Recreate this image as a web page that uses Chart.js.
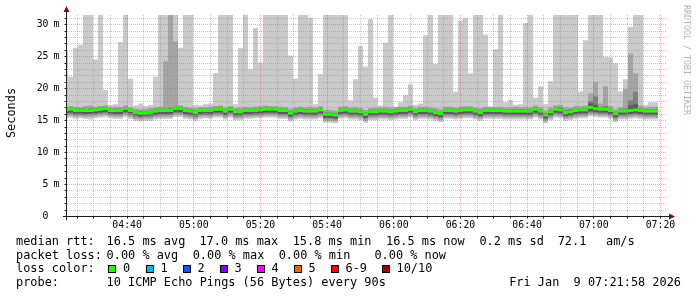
<!DOCTYPE html>
<html><head><meta charset="utf-8">
<script src="https://cdn.jsdelivr.net/npm/chart.js@4.4.1/dist/chart.umd.min.js"></script>
<style>html,body{margin:0;padding:0;background:#fff;overflow:hidden}canvas{display:block}</style>
</head><body>
<canvas id="c" width="697" height="297"></canvas>
<script>
// ---- data (values in ms; one value per 90 s step, first entry is the partially visible step) ----
const M = 31.45; // values at/above the top of the graph
const medianRtt = [16.6,
 16.7,16.5,16.5,16.5,16.5,16.6,16.7,16.8,16.5,16.5,
 16.5,16.8,16.5,16.2,16.1,16.1,16.2,16.4,16.5,16.5,
 16.5,16.8,16.8,16.5,16.4,16.2,16.5,16.5,16.5,16.7,
 16.7,16.4,16.7,16.3,16.3,16.5,16.5,16.5,16.6,16.7,
 16.7,16.7,16.5,16.5,16.1,16.4,16.5,16.4,16.4,16.4,
 16.6,15.9,15.9,15.8,16.5,16.6,16.4,16.4,16.3,15.9,
 16.3,16.3,16.4,16.4,16.3,16.4,16.5,16.5,16.7,16.3,
 16.5,16.5,16.4,16.2,16.0,16.5,16.5,16.4,16.5,16.6,
 16.6,16.4,16.2,16.5,16.5,16.5,16.5,16.4,16.4,16.4,
 16.4,16.4,16.4,16.7,16.4,15.8,16.3,16.7,16.6,16.2,
 16.3,16.5,16.6,16.6,17.0,16.8,16.7,16.7,16.5,16.0,
 16.4,16.4,16.5,16.6,16.5,16.4,16.4,16.4];
const ping10 = [25.9,
 21.8,26.3,26.8,M,M,24.5,M,19.7,17.4,17.5,
 27.2,M,21.5,17.3,17.6,17.2,17.4,21.8,M,M,
 M,M,26.3,M,M,17.4,17.3,17.5,17.6,22.4,
 M,M,M,17.5,26.3,M,23.0,29.4,24.0,M,
 M,M,M,M,25.1,21.5,M,M,31.0,17.5,
 22.2,M,M,M,M,M,18.1,21.4,26.6,23.4,
 30.8,18.5,17.3,27.1,M,17.1,17.8,18.9,20.6,17.4,
 17.6,28.3,M,23.8,M,M,M,19.4,30.6,31.0,
 22.3,M,M,28.4,17.1,26.1,M,17.8,18.2,17.4,
 17.5,30.2,M,18.5,20.3,17.5,21.1,M,M,M,
 M,M,19.5,27.5,M,M,M,24.9,24.8,23.9,
 19.5,21.4,29.6,M,M,17.4,17.8,17.8];
const ping9 = [17.1,
 17.2,17.1,17.0,17.2,17.3,17.1,17.2,17.3,17.0,17.1,
 17.1,17.3,17.0,16.8,16.7,16.8,16.9,17.0,17.1,24.2,
 M,27.3,17.3,17.1,17.0,16.9,17.0,17.0,17.1,17.2,
 17.3,17.0,17.2,16.9,17.0,17.1,17.0,17.1,17.2,17.3,
 17.2,17.2,17.1,17.0,16.8,17.0,17.1,17.0,17.1,17.0,
 17.2,16.6,16.6,16.5,17.1,17.2,17.0,17.1,16.9,16.6,
 16.9,17.0,17.0,17.1,17.0,17.0,17.1,17.1,17.3,16.9,
 17.1,17.1,17.0,16.9,16.7,17.1,17.1,17.0,17.1,17.2,
 17.2,17.0,16.9,17.1,17.1,17.0,17.1,17.0,17.0,17.1,
 17.0,17.1,17.0,17.3,17.0,16.5,17.0,17.3,17.4,17.0,
 17.0,17.2,17.2,17.3,19.2,21.0,17.6,20.3,17.2,16.7,
 17.0,19.9,25.4,22.3,17.3,17.0,17.1,17.1];
const ping8 = [16.9,
 17.0,16.8,16.8,16.8,16.9,16.9,17.0,17.1,16.8,16.8,
 16.8,17.1,16.8,16.5,16.4,16.4,16.5,16.7,16.8,16.8,
 16.9,17.1,17.1,16.8,16.7,16.5,16.8,16.8,16.8,17.0,
 17.0,16.7,17.0,16.6,16.6,16.8,16.8,16.8,16.9,17.0,
 17.0,17.0,16.8,16.8,16.4,16.7,16.8,16.7,16.7,16.7,
 16.9,16.2,16.2,16.1,16.8,16.9,16.7,16.7,16.6,16.2,
 16.6,16.6,16.7,16.7,16.6,16.7,16.8,16.8,17.0,16.6,
 16.8,16.8,16.7,16.5,16.3,16.8,16.8,16.7,16.8,16.9,
 16.9,16.7,16.5,16.8,16.8,16.8,16.8,16.7,16.7,16.7,
 16.7,16.7,16.7,17.0,16.7,16.1,16.6,17.0,17.0,16.6,
 16.7,16.8,16.9,16.9,18.0,18.7,17.0,17.2,16.8,16.3,
 16.7,16.8,18.1,19.4,16.8,16.7,16.7,16.7];
const ping7 = [16.7,
 16.8,16.6,16.6,16.6,16.7,16.7,16.8,16.9,16.6,16.6,
 16.6,16.9,16.6,16.3,16.2,16.2,16.3,16.5,16.6,16.6,
 16.7,16.9,16.9,16.6,16.5,16.3,16.6,16.6,16.6,16.8,
 16.8,16.5,16.8,16.4,16.4,16.6,16.6,16.6,16.7,16.8,
 16.8,16.8,16.6,16.6,16.2,16.5,16.6,16.5,16.5,16.5,
 16.7,16.0,16.0,15.9,16.6,16.7,16.5,16.5,16.4,16.0,
 16.4,16.4,16.5,16.5,16.4,16.5,16.6,16.6,16.8,16.4,
 16.6,16.6,16.5,16.3,16.1,16.6,16.6,16.5,16.6,16.7,
 16.7,16.5,16.3,16.6,16.6,16.6,16.6,16.5,16.5,16.5,
 16.5,16.5,16.5,16.8,16.5,15.9,16.4,16.8,16.8,16.4,
 16.5,16.6,16.7,16.7,17.6,17.4,16.8,16.9,16.6,16.1,
 16.5,16.5,17.3,17.5,16.6,16.5,16.5,16.5];
const ping4 = [16.1,
 16.2,16.0,16.1,16.0,16.0,16.1,16.2,16.3,16.1,16.0,
 16.0,16.3,16.1,15.8,15.6,15.7,15.8,15.9,16.0,16.0,
 16.0,16.3,16.3,16.0,15.9,15.8,16.0,16.1,16.0,16.2,
 16.2,15.9,16.2,15.8,15.9,16.0,16.0,16.1,16.1,16.2,
 16.2,16.2,16.0,16.0,15.6,15.9,16.0,15.9,15.9,15.9,
 16.1,15.4,15.4,15.3,16.0,16.1,15.9,15.9,15.8,15.4,
 15.8,15.8,15.9,15.9,15.8,15.9,16.0,16.0,16.2,15.8,
 16.0,16.0,15.9,15.7,15.5,16.0,16.0,15.9,16.0,16.1,
 16.1,15.9,15.7,16.0,16.0,16.0,16.0,15.9,15.9,15.9,
 15.9,15.9,15.9,16.2,15.9,15.3,15.8,16.2,16.1,15.7,
 15.8,16.0,16.1,16.1,16.4,16.3,16.2,16.2,16.0,15.5,
 15.9,15.9,16.0,16.1,16.0,15.9,15.9,15.9];
const ping3 = [15.9,
 16.0,15.8,15.8,15.8,15.9,15.9,16.0,16.1,15.8,15.8,
 15.8,16.1,15.8,15.5,15.4,15.5,15.5,15.7,15.8,15.8,
 15.8,16.1,16.1,15.8,15.7,15.5,15.8,15.8,15.8,16.0,
 16.0,15.7,16.0,15.6,15.6,15.8,15.8,15.8,15.9,16.0,
 16.0,16.0,15.8,15.8,15.4,15.7,15.8,15.7,15.7,15.7,
 15.9,15.2,15.2,15.1,15.8,15.9,15.7,15.7,15.6,15.2,
 15.6,15.6,15.7,15.7,15.6,15.7,15.8,15.8,16.0,15.6,
 15.8,15.8,15.7,15.5,15.3,15.8,15.8,15.7,15.8,15.9,
 15.9,15.7,15.5,15.8,15.8,15.8,15.8,15.7,15.7,15.7,
 15.7,15.7,15.7,16.0,15.7,15.1,15.6,16.0,15.9,15.5,
 15.6,15.8,15.9,15.9,16.2,16.1,16.0,16.0,15.8,15.3,
 15.7,15.7,15.8,15.9,15.8,15.7,15.7,15.7];
const ping2 = [15.6,
 15.7,15.5,15.6,15.5,15.5,15.6,15.7,15.8,15.6,15.5,
 15.5,15.8,15.5,15.2,15.1,15.2,15.2,15.4,15.5,15.5,
 15.5,15.8,15.8,15.5,15.4,15.2,15.5,15.6,15.5,15.7,
 15.7,15.4,15.7,15.3,15.3,15.5,15.5,15.6,15.6,15.7,
 15.7,15.7,15.5,15.5,15.1,15.4,15.5,15.4,15.4,15.4,
 15.6,14.9,14.9,14.8,15.5,15.6,15.4,15.4,15.3,14.9,
 15.3,15.3,15.4,15.4,15.3,15.4,15.5,15.5,15.7,15.3,
 15.5,15.5,15.4,15.2,15.0,15.5,15.5,15.4,15.5,15.6,
 15.6,15.4,15.2,15.5,15.5,15.5,15.5,15.4,15.4,15.4,
 15.4,15.4,15.4,15.7,15.4,14.8,15.3,15.7,15.6,15.2,
 15.3,15.5,15.6,15.6,15.9,15.8,15.7,15.7,15.5,15.0,
 15.4,15.4,15.5,15.6,15.5,15.4,15.4,15.4];
const ping1 = [15.3,
 15.4,15.2,15.3,15.2,15.1,15.3,15.4,15.5,15.3,15.2,
 15.2,15.5,15.2,14.9,14.8,14.9,14.9,15.1,15.2,15.2,
 15.2,15.5,15.5,15.2,15.1,14.9,15.2,15.3,15.2,15.4,
 15.4,15.1,15.4,15.0,15.0,15.2,15.2,15.3,15.3,15.4,
 15.4,15.4,15.2,15.2,14.8,15.1,15.2,15.1,15.1,15.1,
 15.3,14.6,14.6,14.5,15.2,15.3,15.1,15.1,15.0,14.6,
 15.0,15.0,15.1,15.1,15.0,15.1,15.2,15.2,15.4,15.0,
 15.2,15.2,15.1,14.9,14.7,15.2,15.2,15.1,15.2,15.3,
 15.3,15.1,14.9,15.2,15.2,15.2,15.2,15.1,15.1,15.1,
 15.1,15.1,15.1,15.4,15.1,14.5,15.0,15.4,15.3,14.9,
 15.0,15.2,15.3,15.3,15.6,15.5,15.4,15.4,15.2,14.7,
 15.1,15.1,15.2,15.3,15.2,15.1,15.1,15.1];

// time axis (minutes after 04:00)
const graphStart = 21 + 58/60;       // 04:21:58
const graphEnd = graphStart + 180;   // 07:21:58
const firstStepStart = 20 + 46/60;   // 04:20:46
const stepMin = 1.5;                 // 90 s
const xTickLabels = ['04:40','05:00','05:20','05:40','06:00','06:20','06:40','07:00','07:20'];
const xTickValues = [40,60,80,100,120,140,160,180,200];
const yTickValues = [0,5,10,15,20,25,30];
const yTickLabels = ['0','5 m','10 m','15 m','20 m','25 m','30 m'];
const lossLabels = ['0','1','2','3','4','5','6-9','10/10'];
const lossColors = ['#26ff00','#00b8ff','#0059ff','#7e00ff','#ff00ff','#ff5e00','#ff0000','#a10000'];

const stepCenters = medianRtt.map((_, i) => firstStepStart + i * stepMin + stepMin / 2);
const MED_HALF = 0.23;
function band(lo, hi) { return stepCenters.map((t, i) => ({x: t, y: [lo[i], hi[i]]})); }
const medLo = medianRtt.map(v => v - MED_HALF), medHi = medianRtt.map(v => v + MED_HALF);

const common = {grouped: false, barPercentage: 1, categoryPercentage: 1, borderWidth: 0, inflateAmount: 0, clip: 0};
const datasets = [
  Object.assign({data: band(medLo, medHi), backgroundColor: lossColors[0]}, common),
  Object.assign({data: band(ping4, ping7), backgroundColor: '#585858'}, common),
  Object.assign({data: band(ping3, ping8), backgroundColor: '#7e7e7e'}, common),
  Object.assign({data: band(ping2, ping9), backgroundColor: '#a4a4a4'}, common),
  Object.assign({data: band(ping1, ping10), backgroundColor: '#cacaca'}, common),
];

const MONO = '"DejaVu Sans Mono", monospace';
const rrd = {
  id: 'rrd',
  afterDatasetsDraw(chart) {
    const {ctx, chartArea: a, scales: {x, y}} = chart;
    ctx.save();
    ctx.lineWidth = 1;
    ctx.setLineDash([1, 1]);
    // minor grid
    ctx.strokeStyle = 'rgba(144,144,144,0.5)';
    for (let v = 1; v <= 31; v++) {
      if (v % 5 === 0) continue;
      const py = Math.round(y.getPixelForValue(v)) + 0.5;
      ctx.beginPath(); ctx.moveTo(a.left, py); ctx.lineTo(a.right, py); ctx.stroke();
    }
    for (let t = 25; t < graphEnd; t += 5) {
      if (t % 20 === 0) continue;
      const px = Math.floor(x.getPixelForValue(t)) + 0.5;
      ctx.beginPath(); ctx.moveTo(px, a.top); ctx.lineTo(px, a.bottom); ctx.stroke();
    }
    // major grid
    ctx.strokeStyle = 'rgba(224,80,80,0.5)';
    yTickValues.forEach(v => {
      if (v === 0) return;
      const py = Math.round(y.getPixelForValue(v)) + 0.5;
      ctx.beginPath(); ctx.moveTo(a.left, py); ctx.lineTo(a.right, py); ctx.stroke();
    });
    xTickValues.forEach(t => {
      const px = Math.floor(x.getPixelForValue(t)) + 0.5;
      ctx.beginPath(); ctx.moveTo(px, a.top); ctx.lineTo(px, a.bottom); ctx.stroke();
    });
    ctx.setLineDash([]);
    // axes
    const y0 = Math.round(y.getPixelForValue(0)) + 0.5;
    const x0 = a.left - 0.5;
    ctx.strokeStyle = '#202020';
    ctx.beginPath(); ctx.moveTo(a.left - 4, y0); ctx.lineTo(a.right + 4, y0); ctx.stroke();
    ctx.beginPath(); ctx.moveTo(x0, a.bottom + 4); ctx.lineTo(x0, a.top - 4); ctx.stroke();
    // ticks
    for (let v = 1; v <= 31; v++) {
      const py = Math.round(y.getPixelForValue(v)) + 0.5;
      ctx.beginPath(); ctx.moveTo(x0 - 2, py); ctx.lineTo(x0, py); ctx.stroke();
    }
    for (let t = 25; t < graphEnd; t += 5) {
      const px = Math.floor(x.getPixelForValue(t)) + 0.5;
      ctx.beginPath(); ctx.moveTo(px, y0); ctx.lineTo(px, y0 + 2); ctx.stroke();
    }
    // arrows
    ctx.fillStyle = '#801010';
    ctx.beginPath(); ctx.moveTo(x0 - 3, a.top - 3); ctx.lineTo(x0 + 3, a.top - 3); ctx.lineTo(x0, a.top - 9); ctx.closePath(); ctx.fill();
    ctx.beginPath(); ctx.moveTo(a.right + 2, y0 - 3); ctx.lineTo(a.right + 2, y0 + 3); ctx.lineTo(a.right + 8, y0); ctx.closePath(); ctx.fill();
    ctx.restore();
  },
  afterDraw(chart) {
    const {ctx, chartArea: a, scales: {x, y}} = chart;
    ctx.save();
    ctx.fillStyle = '#000';
    ctx.font = '9.8px ' + MONO;
    ctx.textBaseline = 'middle';
    yTickValues.forEach((v, i) => {
      const py = y.getPixelForValue(v) + 0.5;
      const parts = yTickLabels[i].split(' ');
      ctx.textAlign = 'right'; ctx.fillText(parts[0], 48.5, py);
      if (parts[1]) { ctx.textAlign = 'left'; ctx.fillText(parts[1], 53.5, py); }
    });
    ctx.textAlign = 'center'; ctx.textBaseline = 'alphabetic';
    xTickValues.forEach((t, i) => ctx.fillText(xTickLabels[i], x.getPixelForValue(t), 227.5));
    // y title
    ctx.font = '11.9px ' + MONO;
    ctx.save(); ctx.translate(15, 113); ctx.rotate(-Math.PI / 2);
    ctx.textAlign = 'center'; ctx.fillText('Seconds', 0, 0); ctx.restore();
    // watermark
    ctx.save(); ctx.fillStyle = '#b3b3b3'; ctx.font = '8.3px ' + MONO;
    ctx.translate(684, 5); ctx.rotate(Math.PI / 2); ctx.textAlign = 'left';
    ctx.fillText('RRDTOOL / TOBI OETIKER', 0, 0); ctx.restore();
    // legend
    ctx.textAlign = 'left';
    const L = [
      [245, [[16,'median rtt:'],[106.6,'16.5 ms avg'],[199.4,'17.0 ms max'],[292.7,'15.8 ms min'],[386,'16.5 ms now'],[479.4,'0.2 ms sd'],[557.7,'72.1'],[606,'am/s']]],
      [258.7, [[16,'packet loss:'],[106.6,'0.00 % avg'],[192.7,'0.00 % max'],[278.7,'0.00 % min'],[374.4,'0.00 % now']]],
      [272.4, [[16,'loss color:']]],
      [286, [[16,'probe:'],[106.6,'10 ICMP Echo Pings (56 Bytes) every 90s']]],
    ];
    L.forEach(([by, segs]) => segs.forEach(([sx, s]) => ctx.fillText(s, sx, by)));
    ctx.textAlign = 'right'; ctx.fillText('Fri Jan  9 07:21:58 2026', 681, 286);
    ctx.textAlign = 'left';
    const boxX = [108, 145.5, 182.5, 219.5, 256.5, 293.5, 330.5, 381.5];
    lossLabels.forEach((lab, i) => {
      const bx = Math.round(boxX[i]);
      ctx.fillStyle = lossColors[i]; ctx.fillRect(bx, 265, 8, 8);
      ctx.strokeStyle = '#000'; ctx.lineWidth = 1; ctx.strokeRect(bx + 0.5, 265.5, 7, 7);
      ctx.fillStyle = '#000'; ctx.fillText(lab, boxX[i] + 15, 272.4);
    });
    ctx.restore();
  }
};

new Chart(document.getElementById('c'), {
  type: 'bar',
  data: {datasets},
  options: {
    responsive: false, animation: false, devicePixelRatio: 1,
    layout: {padding: {left: 67, right: 30, top: 15, bottom: 81}},
    plugins: {legend: {display: false}, tooltip: {enabled: false}},
    scales: {
      x: {type: 'linear', min: graphStart, max: graphEnd, offset: false, display: false},
      y: {type: 'linear', min: 0, max: 31.45, display: false}
    }
  },
  plugins: [rrd]
});
</script>
</body></html>
